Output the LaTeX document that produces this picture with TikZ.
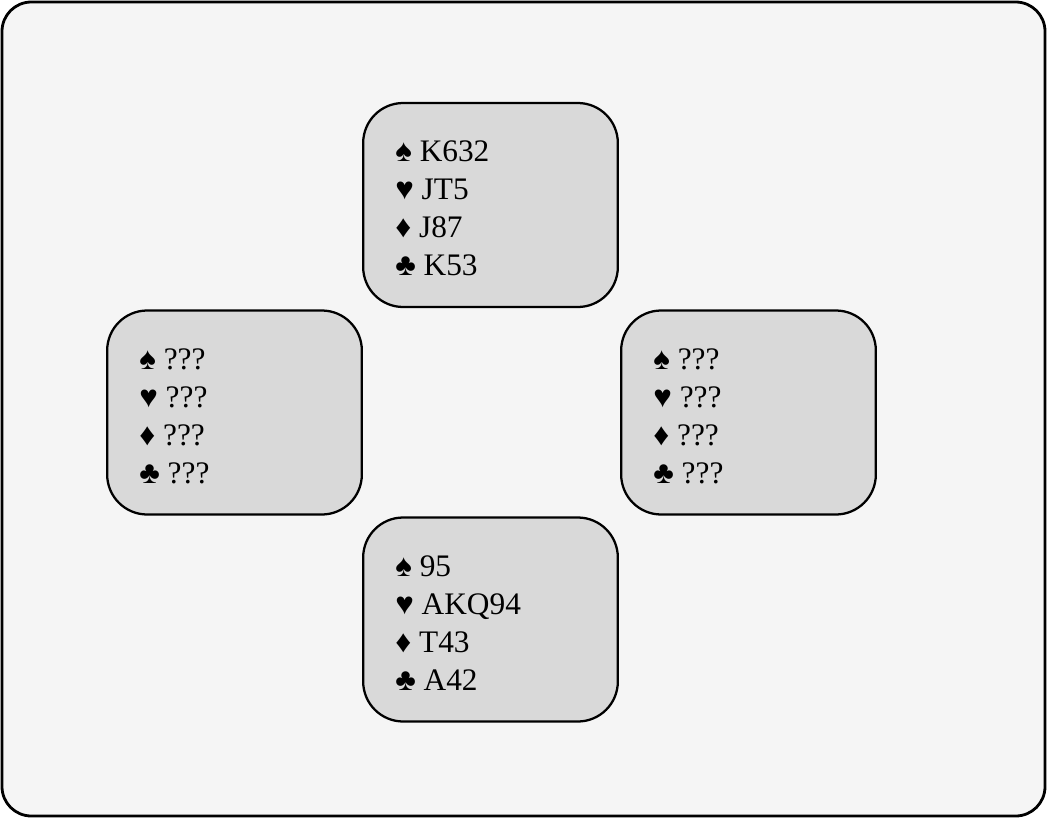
\documentclass[tikz,border=0pt]{standalone}
\usepackage{fontspec}
\setmainfont{Liberation Serif}
\definecolor{outerfill}{HTML}{F5F5F5}
\definecolor{boxfill}{HTML}{D9D9D9}
\tikzset{
  px/.style={x=0.75pt,y=-0.75pt},
  handbox/.style={draw=black, line width=1.7pt, fill=boxfill, rounded corners=30pt,
    minimum width=191pt, minimum height=153pt, inner sep=0pt},
  cardline/.style={anchor=base west, inner sep=0pt, font=\fontsize{23.5}{28}\selectfont}
}
\newcommand{\handtext}[6]{%
  \node[cardline] (#1s) at ([shift={(24.75pt,-45pt)}]#2.north west) {♠ #3};
  \node[cardline] (#1h) at ([shift={(24.75pt,-73.5pt)}]#2.north west) {♥ #4};
  \node[cardline] (#1d) at ([shift={(24.75pt,-102pt)}]#2.north west) {♦ #5};
  \node[cardline] (#1c) at ([shift={(24.75pt,-130.5pt)}]#2.north west) {♣ #6};
}
\begin{document}
\begin{tikzpicture}[px]
  \useasboundingbox (0,0) rectangle (1047,818);
  \draw[line width=2.1pt, fill=outerfill, rounded corners=22pt] (2,2) rectangle (1045,816);
  \node[handbox] (north) at (490.5,205) {};
  \node[handbox] (west) at (234.5,412.5) {};
  \node[handbox] (east) at (748.5,412.5) {};
  \node[handbox] (south) at (490.5,619.5) {};
  \handtext{n}{north}{K632}{JT5}{J87}{K53}
  \handtext{w}{west}{???}{???}{???}{???}
  \handtext{e}{east}{???}{???}{???}{???}
  \handtext{s}{south}{95}{AKQ94}{T43}{A42}
\end{tikzpicture}
\end{document}
